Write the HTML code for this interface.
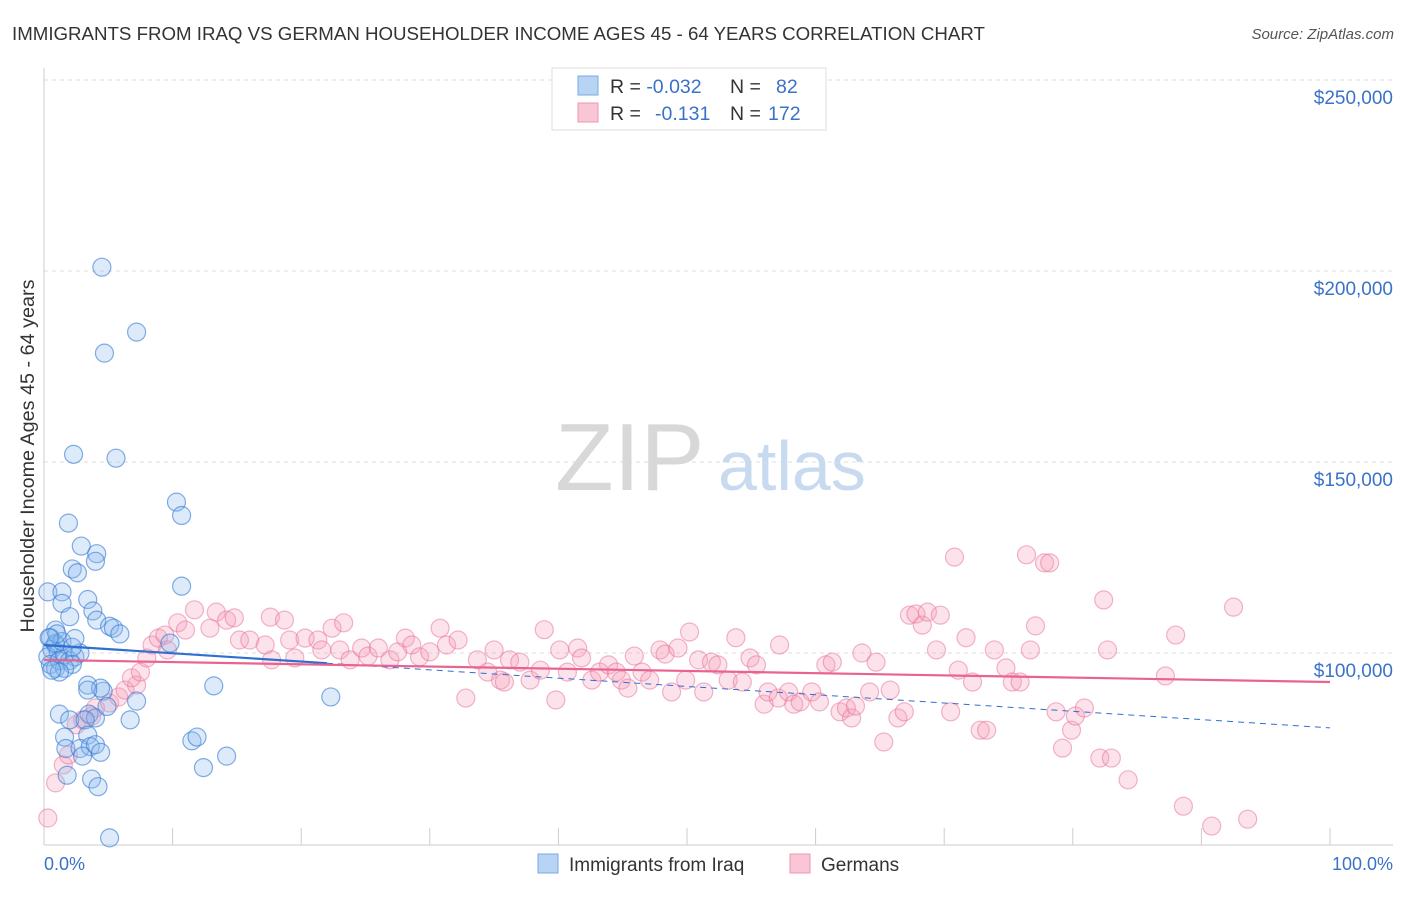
<!DOCTYPE html>
<html><head><meta charset="utf-8"><style>
body{margin:0;background:#fff;font-family:"Liberation Sans",sans-serif;}
svg text{font-family:"Liberation Sans",sans-serif;}
</style></head><body>
<svg id="chart" width="1406" height="892">
<text x="12" y="40" font-size="18.7" fill="#333">IMMIGRANTS FROM IRAQ VS GERMAN HOUSEHOLDER INCOME AGES 45 - 64 YEARS CORRELATION CHART</text>
<text x="1394" y="39" font-size="15" fill="#555" font-style="italic" text-anchor="end">Source: ZipAtlas.com</text>
<g id="grid"></g>
<text x="555" y="490" font-size="96" fill="#d8d8d8" font-family="Liberation Serif">ZIP</text>
<text x="718" y="490" font-size="70" fill="#c8daf0">atlas</text>
<line x1="44" y1="68" x2="44" y2="845" stroke="#ccc"/>
<line x1="44" y1="845" x2="1393" y2="845" stroke="#ccc"/>
<g id="yticks"></g>
<g id="xticks"></g>
<text x="44" y="870" font-size="18" fill="#3a72c8">0.0%</text>
<text x="1393" y="870" font-size="18" fill="#3a72c8" text-anchor="end">100.0%</text>
<text transform="translate(34,456) rotate(-90)" font-size="19.8" fill="#333" text-anchor="middle">Householder Income Ages 45 - 64 years</text>
<g id="pts"></g>
<g id="lines"></g>
<g>
<rect x="552" y="68" width="274" height="62" fill="#fff" stroke="#ddd"/>
<rect x="578" y="76" width="20" height="19" fill="#b8d4f5" stroke="#7aa8e0"/>
<rect x="578" y="103" width="20" height="19" fill="#f9c6d5" stroke="#ec98b2"/>
<text x="610" y="93" font-size="19.5" fill="#333">R = <tspan fill="#3a72c8">-0.032</tspan><tspan x="730">N = </tspan><tspan x="776" fill="#3a72c8">82</tspan></text>
<text x="610" y="120" font-size="19.5" fill="#333">R = <tspan x="655" fill="#3a72c8">-0.131</tspan><tspan x="730">N = </tspan><tspan x="768" fill="#3a72c8">172</tspan></text>
</g>
<g>
<rect x="538" y="854" width="20" height="19" fill="#b8d4f5" stroke="#7aa8e0"/>
<text x="569" y="871" font-size="19" fill="#333">Immigrants from Iraq</text>
<rect x="790" y="854" width="20" height="19" fill="#f9c6d5" stroke="#ec98b2"/>
<text x="821" y="871" font-size="19" fill="#333">Germans</text>
</g>
</svg>
<script>
const yTicks=[100,150,200,250];
const yTickLabels=["$100,000","$150,000","$200,000","$250,000"];
const xTicks=[0,10,20,30,40,50,60,70,80,90,100];
const iraqX=[4.5,7.2,4.7,2.3,5.6,10.3,10.7,1.9,2.9,4.1,4.0,2.2,2.6,10.7,0.3,1.4,1.4,3.4,3.8,2.0,4.1,5.1,5.4,5.9,0.9,0.5,0.9,0.6,1.1,0.3,0.5,0.9,1.2,1.6,2.0,2.4,2.8,2.2,1.6,1.2,0.6,0.9,1.4,2.2,3.4,4.6,4.4,3.4,1.2,2.0,3.5,4.0,6.7,7.2,4.9,3.2,3.4,1.6,1.7,2.8,3.6,4.0,4.4,3.0,1.8,3.7,4.2,5.1,13.2,11.5,11.9,12.4,14.2,22.3,9.8,1.0,0.4,2.4];
const iraqV=[201,184,178.5,152,151,139.5,136,134,128,126,124,122,121,117.5,116,116,113,114,111,109.5,108.6,107,106.5,105,106,104,102,101,100,99,97,96,98,99.5,98,99,100,97,96,95,95.5,102.5,103,101.5,91.6,90,90.8,90.3,84,82.5,84,83,82.5,87.4,86,82.5,78.5,78,75,75,75.5,76,74,73,68,67,65,51.6,91.4,77,78,70,73,88.5,102.6,105,104,103.8];
const gerX=[0.3,0.9,1.5,1.9,2.5,3.0,3.7,4.0,5.1,5.8,6.3,7.2,6.8,7.5,8.0,8.4,8.9,9.4,9.6,10.4,11.0,11.7,12.9,13.4,14.2,14.8,15.2,16.0,17.2,17.6,17.7,18.7,19.1,19.5,20.3,21.3,21.6,22.4,23.0,23.3,23.8,24.7,25.2,26.0,26.9,27.5,28.1,28.6,29.2,30.0,30.8,31.3,32.2,32.8,33.7,34.5,35.0,35.5,35.8,36.2,37.0,37.8,38.6,38.9,39.8,40.1,40.7,41.5,41.8,42.6,43.2,43.9,44.5,44.9,45.4,45.9,46.5,47.1,47.9,48.3,48.8,49.3,49.9,50.2,50.9,51.3,51.9,52.4,53.2,53.8,54.3,54.9,55.4,56.0,56.3,57.2,57.1,57.9,58.3,58.8,59.7,60.3,60.8,61.3,61.9,62.4,62.8,63.1,63.6,64.2,64.7,65.3,65.8,66.4,66.9,67.3,67.8,68.3,68.7,69.4,69.7,70.5,70.8,71.1,71.7,72.2,72.8,73.3,73.9,74.8,75.3,75.9,76.4,76.7,77.1,77.8,78.2,78.7,79.2,79.9,80.2,80.9,82.1,82.4,82.7,83.0,84.3,87.2,88.0,88.6,90.8,92.5,93.6];
const gerV=[56.8,66,70.7,73.3,81.2,82.5,83.5,85.6,86.9,88.5,90.3,91.6,93.5,95,98.7,102.1,103.9,104.7,100.8,107.9,106,111.3,106.5,110.7,108.6,109.2,103.4,103.4,102.1,109.4,98.2,108.6,103.4,98.7,103.9,103.4,100.8,106.5,100.8,107.9,98.2,101.3,99.2,101.3,98.2,100.3,103.9,102.1,99,100.3,106.5,102.1,103.4,88.2,98.2,95,100.8,92.9,92.4,98.2,97.6,92.9,95.5,106.1,87.7,100.8,95,101.3,98.7,92.9,95,96.9,95,92.9,90.8,99.2,95,92.9,100.8,99.7,89.8,101.3,92.9,105.5,98.2,89.8,97.6,96.9,92.9,104,92.4,98.7,96.9,86.6,89.8,102.1,88.2,89.8,86.6,87.2,89.8,87.2,96.9,97.6,84.6,85.6,83,86.1,100,89.8,97.6,76.7,90.3,83,84.6,109.9,110.2,107.3,110.7,100.8,109.9,84.6,125.1,95.5,104,92.4,79.8,79.8,100.8,96.1,92.4,92.4,125.7,100.8,107.1,123.6,123.6,84.6,75.1,79.8,83.5,85.6,72.5,113.9,100.8,72.5,66.8,94,104.7,59.9,54.7,112,56.5];
const iraqTrend=[102.1,80.4];
const gerTrend=[98.2,92.4];
const X=p=>44+p*12.86, Y=v=>653-(v-100)*3.82;
const NS="http://www.w3.org/2000/svg";
function mk(tag,attrs,parent){const e=document.createElementNS(NS,tag);for(const k in attrs)e.setAttribute(k,attrs[k]);parent.appendChild(e);return e;}
const grid=document.getElementById('grid'),yt=document.getElementById('yticks'),xt=document.getElementById('xticks');
yTicks.forEach((v,i)=>{
 const l=mk('line',{x1:44,x2:1393,y1:Y(v),y2:Y(v),stroke:'#ddd','stroke-dasharray':'4,4'},grid);
 
 
 const t=mk('text',{x:1393,y:Y(v)+24,'font-size':19,fill:'#3a72c8','text-anchor':'end'},yt);
 t.textContent=yTickLabels[i];
 
 
});
xTicks.forEach(p=>{
 const l=mk('line',{x1:X(p),x2:X(p),y1:828,y2:845,stroke:'#ccc'},xt);
 
 
});
const pts=document.getElementById('pts');
gerX.forEach((x,i)=>{
 const c=mk('circle',{cx:X(x),cy:Y(gerV[i]),r:9,fill:'rgba(244,160,186,0.3)',stroke:'rgba(232,110,150,0.5)','stroke-width':1.2},pts);
 
 
});
iraqX.forEach((x,i)=>{
 const c=mk('circle',{cx:X(x),cy:Y(iraqV[i]),r:9,fill:'rgba(140,185,240,0.3)',stroke:'rgba(50,120,210,0.6)','stroke-width':1.2},pts);
 
 
});
const lines=document.getElementById('lines');
const iv=p=>iraqTrend[0]+(iraqTrend[1]-iraqTrend[0])*p/100;
let l1=mk('line',{x1:X(0),y1:Y(iv(0)),x2:X(22),y2:Y(iv(22)),stroke:'#2f6fd0','stroke-width':2.2},lines);


let l2=mk('line',{x1:X(22),y1:Y(iv(22)),x2:X(100),y2:Y(iv(100)),stroke:'#2f6fd0','stroke-width':1,'stroke-dasharray':'6,5'},lines);


let l3=mk('line',{x1:X(0),y1:Y(gerTrend[0]),x2:X(100),y2:Y(gerTrend[1]),stroke:'#e8638f','stroke-width':2.2},lines);


</script>
</body></html>
